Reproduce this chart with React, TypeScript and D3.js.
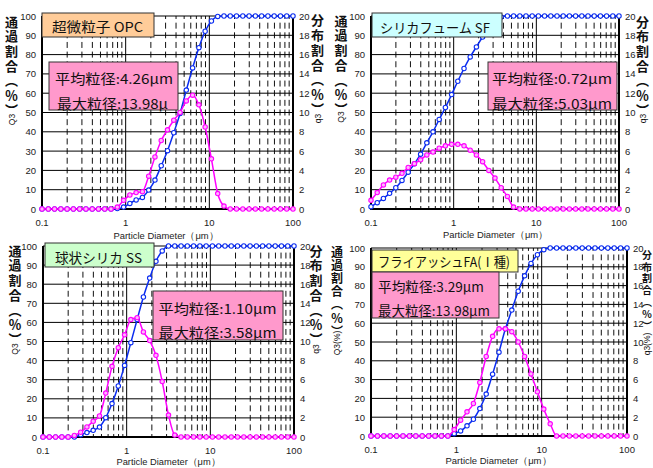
import React from 'react';
import * as d3 from 'd3';

// Particle diameter channels (μm), shared by every panel
const DIAMETERS = [
  0.1, 0.1189, 0.1413, 0.1679, 0.1995, 0.2371, 0.2818, 0.335, 0.3981, 0.4732,
  0.5623, 0.6683, 0.7943, 0.9441, 1.122, 1.334, 1.585, 1.884, 2.239, 2.661,
  3.162, 3.758, 4.467, 5.309, 6.31, 7.499, 8.913, 10.59, 12.59, 14.96,
  17.78, 21.13, 25.12, 29.85, 35.48, 42.17, 50.12, 59.57, 70.79, 84.14, 100,
];

// 超微粒子 OPC: cumulative passing Q3 (%) and frequency q3 (%)
const OPC_CUM = [
  0, 0, 0, 0, 0, 0, 0, 0, 0, 0, 0, 0, 0.2, 1.0, 2.9, 4.7, 6.0, 9.8, 15.0, 22.4,
  30.2, 39.5, 49.5, 61.6, 73.1, 83.6, 92.1, 97.4, 99.8, 100, 100, 100, 100, 100, 100, 100, 100, 100, 100, 100, 100,
];
const OPC_FREQ = [
  0, 0, 0, 0, 0, 0, 0, 0, 0, 0, 0, 0, 0.2, 0.9, 1.45, 1.7, 1.8, 3.4, 5.4, 7.1,
  8.2, 9.2, 10.0, 11.2, 11.8, 10.8, 8.5, 5.2, 1.6, 0.3, 0, 0, 0, 0, 0, 0, 0, 0, 0, 0, 0,
];

// シリカフューム SF
const SF_CUM = [
  1.2, 3.3, 5.5, 8.1, 11.0, 14.8, 19.1, 23.4, 28.4, 34.3, 40.0, 46.4, 52.6, 59.3, 66.2, 72.8, 78.8, 84.0, 89.1, 93.4,
  97.4, 99.5, 100, 100, 100, 100, 100, 100, 100, 100, 100, 100, 100, 100, 100, 100, 100, 100, 100, 100, 100,
];
const SF_FREQ = [
  0.9, 1.7, 2.5, 3.0, 3.3, 3.7, 4.3, 4.7, 5.1, 5.6, 5.9, 6.3, 6.55, 6.7, 6.7, 6.55, 6.1, 5.6, 4.9, 4.0,
  3.2, 2.2, 1.3, 0.2, 0, 0, 0, 0, 0, 0, 0, 0, 0, 0, 0, 0, 0, 0, 0, 0, 0,
];

// 球状シリカ SS
const SS_CUM = [
  0, 0, 0, 0, 0, 0, 1.2, 2.3, 3.5, 5.2, 10.1, 17.5, 26.7, 37.5, 49.4, 61.5, 73.3, 83.2, 92.0, 97.4,
  100, 100, 100, 100, 100, 100, 100, 100, 100, 100, 100, 100, 100, 100, 100, 100, 100, 100, 100, 100, 100,
];
const SS_FREQ = [
  0, 0, 0, 0, 0, 0.17, 0.5, 1.05, 1.65, 2.2, 4.6, 7.4, 9.35, 10.7, 12.3, 12.5, 11.0, 10.1, 8.55, 5.8,
  2.3, 0.2, 0, 0, 0, 0, 0, 0, 0, 0, 0, 0, 0, 0, 0, 0, 0, 0, 0, 0, 0,
];

// フライアッシュ FA（Ⅰ種）
const FA_CUM = [
  0, 0, 0, 0, 0, 0, 0, 0, 0, 0, 0, 0, 0, 1.25, 2.7, 5.4, 8.9, 14.6, 22.3, 32.9,
  44.6, 57.0, 67.0, 77.0, 85.2, 91.8, 96.4, 99.1, 100, 100, 100, 100, 100, 100, 100, 100, 100, 100, 100, 100, 100,
];
const FA_FREQ = [
  0, 0, 0, 0, 0, 0, 0, 0, 0, 0, 0, 0, 0, 0.68, 1.68, 2.57, 3.46, 5.7, 8.46, 10.6,
  11.4, 11.4, 11.1, 10.0, 8.46, 6.6, 4.7, 2.86, 1.3, 0, 0, 0, 0, 0, 0, 0, 0, 0, 0, 0, 0,
];

const LEFT_TICKS = [0, 10, 20, 30, 40, 50, 60, 70, 80, 90, 100];
const RIGHT_TICKS = [0, 2, 4, 6, 8, 10, 12, 14, 16, 18, 20];
const X_TICKS = [0.1, 1, 10, 100];
const X_TICK_LABELS = ['0.1', '1', '10', '100'];
const MINOR_X = [0.2, 0.3, 0.4, 0.5, 0.6, 0.7, 0.8, 0.9, 2, 3, 4, 5, 6, 7, 8, 9, 20, 30, 40, 50, 60, 70, 80, 90];
const MAJOR_X = [1, 10];

const X_TITLE = 'Particle  Diameter（μm）';
const LEFT_TITLE = '通過割合（％）';
const RIGHT_TITLE = '分布割合（％）';

const SANS = '"Liberation Sans", Arial, sans-serif';
const JP = '"Noto Sans CJK JP", "Noto Sans CJK SC", sans-serif';
const BLUE = '#0a2cf0';
const MAGENTA = '#ff00ff';

type AxisTitle = { x: number; y: number; step: number; size: number; sub: string; subY: number };
type TextLine = { t: string; x: number; y: number; w: number };
type PanelSpec = {
  x0: number; x1: number; y0: number; y1: number;
  cum: number[]; freq: number[];
  title: { x: number; y: number; w: number; h: number; fill: string; line: TextLine };
  stat: { x: number; y: number; w: number; h: number; lines: TextLine[] };
  leftTitle: AxisTitle; rightTitle: AxisTitle;
  xTitle: { x: number; y: number; w: number };
};

const PANELS: PanelSpec[] = [
  {
    x0: 42, x1: 293, y0: 16, y1: 209, cum: OPC_CUM, freq: OPC_FREQ,
    title: { x: 42, y: 13, w: 112, h: 24, fill: '#ffcc99', line: { t: '超微粒子 OPC', x: 52, y: 25.5, w: 91 } },
    stat: { x: 49, y: 62, w: 129, h: 48, lines: [
      { t: '平均粒径:4.26μm', x: 55, y: 77.5, w: 118 },
      { t: '最大粒径:13.98μ', x: 57, y: 103, w: 111 },
    ] },
    leftTitle: { x: 11.5, y: 21.7, step: 14.7, size: 13, sub: 'Q3', subY: 119.5 },
    rightTitle: { x: 317.5, y: 20.5, step: 14.7, size: 13, sub: 'q3', subY: 118.5 },
    xTitle: { x: 166, y: 235, w: 105 },
  },
  {
    x0: 371, x1: 619, y0: 16, y1: 209, cum: SF_CUM, freq: SF_FREQ,
    title: { x: 372, y: 13, w: 130, h: 24, fill: '#ccffff', line: { t: 'シリカフューム SF', x: 380, y: 26.5, w: 110 } },
    stat: { x: 488, y: 62, w: 129, h: 48, lines: [
      { t: '平均粒径:0.72μm', x: 492, y: 77.5, w: 120 },
      { t: '最大粒径:5.03μm', x: 492, y: 103, w: 120 },
    ] },
    leftTitle: { x: 341, y: 20.8, step: 14.7, size: 13, sub: 'Q3', subY: 117 },
    rightTitle: { x: 642.5, y: 21.7, step: 14.7, size: 13, sub: 'q3', subY: 118.5 },
    xTitle: { x: 495.5, y: 234.5, w: 105 },
  },
  {
    x0: 43, x1: 294, y0: 246, y1: 437, cum: SS_CUM, freq: SS_FREQ,
    title: { x: 45, y: 243, w: 109, h: 24, fill: '#ccffcc', line: { t: '球状シリカ SS', x: 55, y: 256.5, w: 87 } },
    stat: { x: 153, y: 291, w: 130, h: 49, lines: [
      { t: '平均粒径:1.10μm', x: 158.5, y: 307.5, w: 118 },
      { t: '最大粒径:3.58μm', x: 158.5, y: 332, w: 118 },
    ] },
    leftTitle: { x: 15, y: 250.8, step: 14.7, size: 13, sub: 'Q3', subY: 349 },
    rightTitle: { x: 316, y: 250.8, step: 14.7, size: 13, sub: 'q3', subY: 349 },
    xTitle: { x: 168.5, y: 461.5, w: 104 },
  },
  {
    x0: 371, x1: 627, y0: 248, y1: 436, cum: FA_CUM, freq: FA_FREQ,
    title: { x: 372, y: 250, w: 146, h: 22, fill: '#ffff99', line: { t: 'フライアッシュFA(Ⅰ種)', x: 378, y: 260.5, w: 132 } },
    stat: { x: 372, y: 272, w: 127, h: 46, lines: [
      { t: '平均粒径:3.29μm', x: 378, y: 285.5, w: 106 },
      { t: '最大粒径:13.98μm', x: 378, y: 309.5, w: 112 },
    ] },
    leftTitle: { x: 337, y: 252, step: 13.2, size: 12, sub: 'Q3(%)', subY: 343 },
    rightTitle: { x: 647, y: 255, step: 11.8, size: 10, sub: 'q3(%)', subY: 344 },
    xTitle: { x: 498.5, y: 460, w: 106 },
  },
];

// Axis title written top-to-bottom, followed by a small rotated symbol
function VerticalTitle({ spec, text }: { spec: AxisTitle; text: string }) {
  const { x, y, step, size, sub, subY } = spec;
  return (
    <g fill="#111">
      <text x={x} y={y - size / 2} fontFamily={JP} fontWeight={700} fontSize={size}
        style={{ writingMode: 'vertical-rl', letterSpacing: `${step - size}px` }}>{text}</text>
      <text x={0} y={0} transform={`translate(${x},${subY}) rotate(-90)`} fontFamily={SANS}
        fontSize={8.5} textAnchor="middle" dominantBaseline="central">{sub}</text>
    </g>
  );
}

function Panel({ p }: { p: PanelSpec }) {
  const x = d3.scaleLog().domain([0.1, 100]).range([p.x0, p.x1]);
  const yL = d3.scaleLinear().domain([0, 100]).range([p.y1, p.y0]);
  const yR = d3.scaleLinear().domain([0, 20]).range([p.y1, p.y0]);
  const period = (p.y1 - p.y0) / 20;
  const dash = period * 0.62;
  const gap = period - dash;

  const cumLine = d3.line<number>()
    .x((_, i) => x(DIAMETERS[i]))
    .y((d) => yL(d))
    .curve(d3.curveMonotoneX);
  const freqLine = d3.line<number>()
    .x((_, i) => x(DIAMETERS[i]))
    .y((d) => yR(d))
    .curve(d3.curveMonotoneX);

  return (
    <g>
      <rect x={p.x0} y={p.y0} width={p.x1 - p.x0} height={p.y1 - p.y0} fill="#fff" />
      {/* minor vertical grid, dashed */}
      {MINOR_X.map((v) => (
        <line key={`m${v}`} x1={x(v)} x2={x(v)} y1={p.y0} y2={p.y1} stroke="#111" strokeWidth={1}
          strokeDasharray={`${dash} ${gap}`} strokeDashoffset={dash / 2} />
      ))}
      {/* horizontal grid */}
      {LEFT_TICKS.map((v) => (
        <line key={`h${v}`} x1={p.x0} x2={p.x1} y1={yL(v)} y2={yL(v)} stroke="#000" strokeWidth={1} />
      ))}
      {MAJOR_X.map((v) => (
        <line key={`M${v}`} x1={x(v)} x2={x(v)} y1={p.y0} y2={p.y1} stroke="#000" strokeWidth={1} />
      ))}
      {/* frame */}
      <line x1={p.x0} x2={p.x0} y1={p.y0} y2={p.y1 + 1} stroke="#000" strokeWidth={2} />
      <line x1={p.x1} x2={p.x1} y1={p.y0} y2={p.y1 + 1} stroke="#000" strokeWidth={2} />
      <line x1={p.x0} x2={p.x1} y1={p.y1} y2={p.y1} stroke="#000" strokeWidth={2} />

      {/* axis tick labels */}
      {LEFT_TICKS.map((v) => (
        <text key={`lt${v}`} x={p.x0 - 6} y={yL(v)} fontFamily={SANS} fontSize={9.5} fill="#222"
          textAnchor="end" dominantBaseline="central">{v}</text>
      ))}
      {RIGHT_TICKS.map((v) => (
        <text key={`rt${v}`} x={p.x1 + 6} y={yR(v)} fontFamily={SANS} fontSize={9.5} fill="#222"
          textAnchor="start" dominantBaseline="central">{v}</text>
      ))}
      {X_TICKS.map((v, i) => (
        <text key={`xt${v}`} x={x(v)} y={p.y1 + 13.5} fontFamily={SANS} fontSize={9.5} fill="#222"
          textAnchor="middle" dominantBaseline="central">{X_TICK_LABELS[i]}</text>
      ))}
      <text x={p.xTitle.x} y={p.xTitle.y} fontFamily={SANS} fontSize={9.5} fill="#222"
        textAnchor="middle" dominantBaseline="central" textLength={p.xTitle.w}
        lengthAdjust="spacingAndGlyphs">{X_TITLE}</text>

      {/* series */}
      <path d={cumLine(p.cum) ?? ''} fill="none" stroke={BLUE} strokeWidth={1.5} />
      {p.cum.map((v, i) => (
        <circle key={`c${i}`} cx={x(DIAMETERS[i])} cy={yL(v)} r={2.2} fill="#fff" stroke={BLUE} strokeWidth={1.1} />
      ))}
      <path d={freqLine(p.freq) ?? ''} fill="none" stroke={MAGENTA} strokeWidth={1.5} />
      {p.freq.map((v, i) => (
        <circle key={`f${i}`} cx={x(DIAMETERS[i])} cy={yR(v)} r={2.2} fill="#ffb3ff" stroke={MAGENTA} strokeWidth={1.1} />
      ))}

      {/* title box */}
      <rect x={p.title.x} y={p.title.y} width={p.title.w} height={p.title.h} fill={p.title.fill}
        stroke="#333" strokeWidth={1} />
      <text x={p.title.line.x} y={p.title.line.y} fontFamily={JP} fontSize={13.5} fill="#111"
        dominantBaseline="central" textLength={p.title.line.w} lengthAdjust="spacingAndGlyphs">{p.title.line.t}</text>

      {/* statistics box */}
      <rect x={p.stat.x} y={p.stat.y} width={p.stat.w} height={p.stat.h} fill="#ff99cc"
        stroke="#333" strokeWidth={1} />
      {p.stat.lines.map((l, i) => (
        <text key={`s${i}`} x={l.x} y={l.y} fontFamily={JP} fontSize={13.5} fill="#111"
          dominantBaseline="central" textLength={l.w} lengthAdjust="spacingAndGlyphs">{l.t}</text>
      ))}

      <VerticalTitle spec={p.leftTitle} text={LEFT_TITLE} />
      <VerticalTitle spec={p.rightTitle} text={RIGHT_TITLE} />
    </g>
  );
}

export default function App() {
  return (
    <svg width={653} height={468} viewBox="0 0 653 468"
      style={{ position: 'absolute', left: 0, top: 0, background: '#fff' }}>
      <rect width={653} height={468} fill="#fff" />
      {PANELS.map((p, i) => <Panel key={i} p={p} />)}
    </svg>
  );
}
